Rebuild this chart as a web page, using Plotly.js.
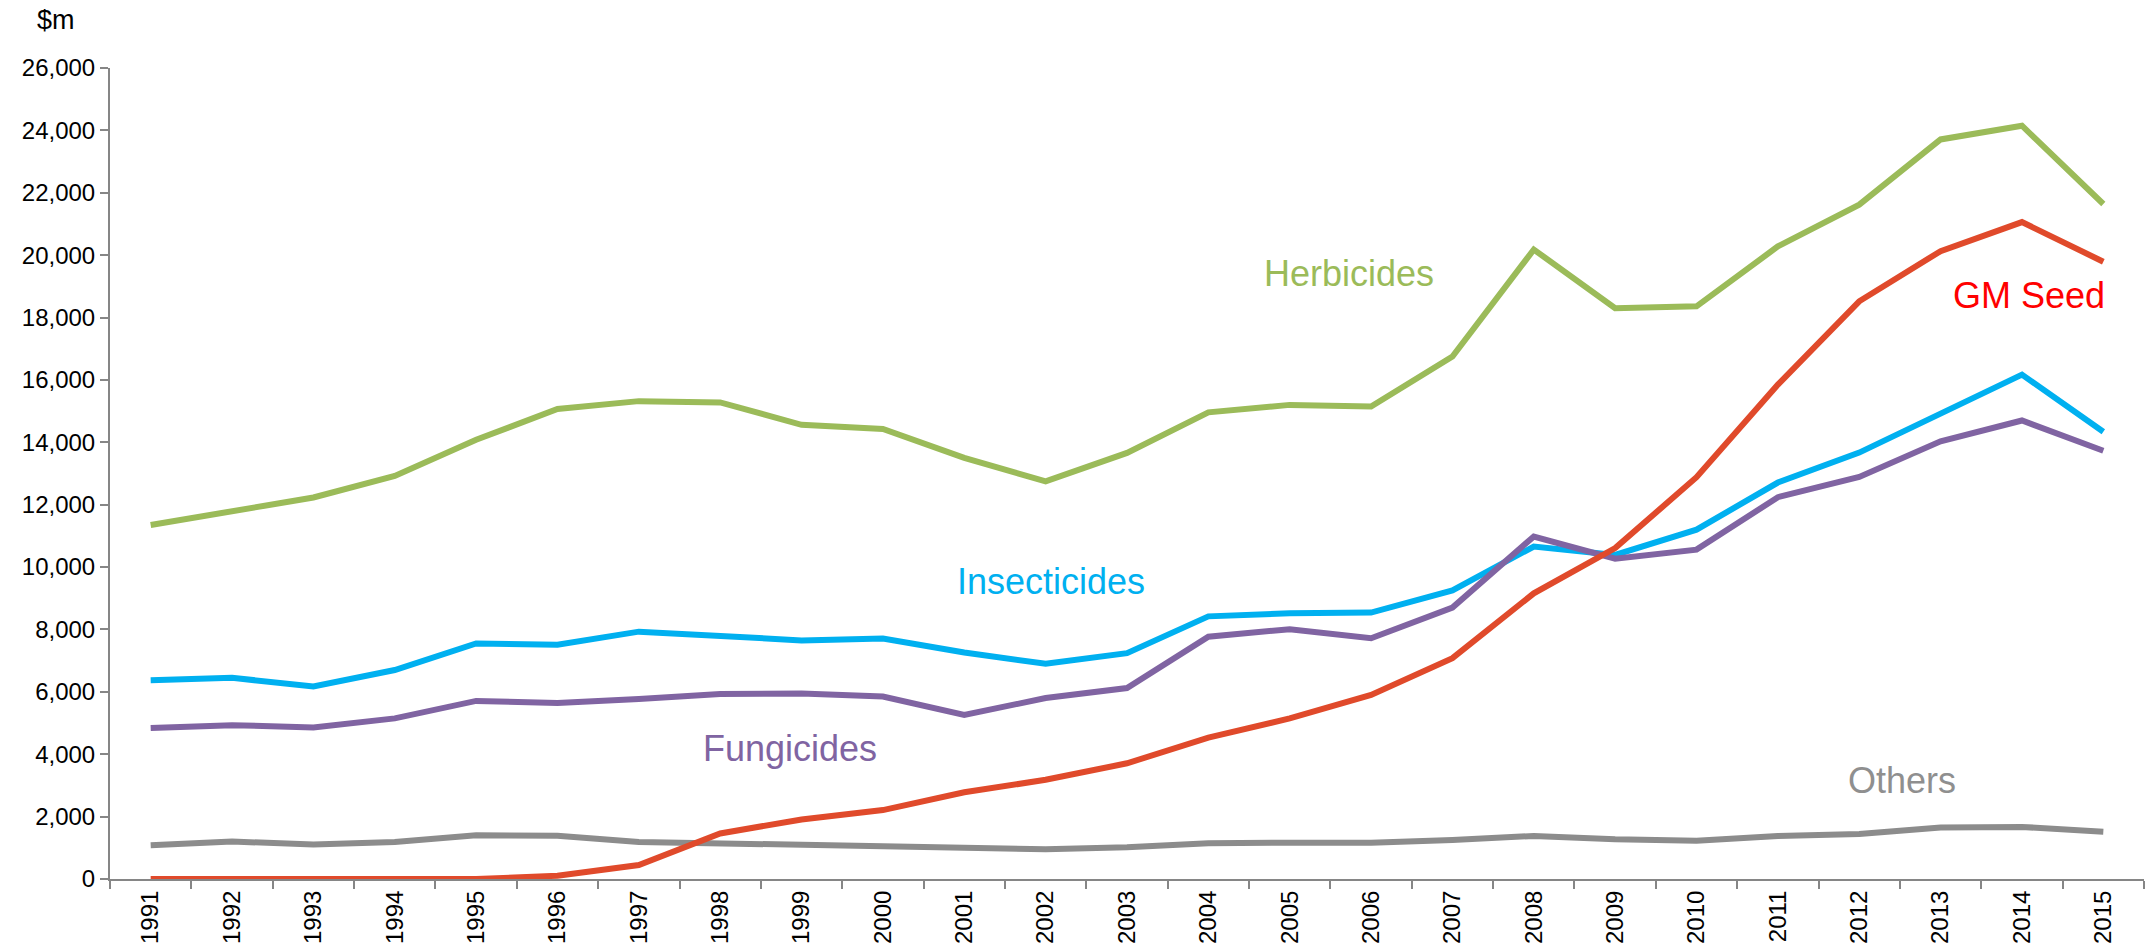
<!DOCTYPE html>
<html>
<head>
<meta charset="utf-8">
<script src="https://cdn.plot.ly/plotly-3.0.1.min.js"></script>
<style>
  html, body { margin: 0; padding: 0; background: #ffffff; }
  #chart { width: 2149px; height: 952px; }
</style>
</head>
<body>
<div id="chart"></div>
<script>
// Crop protection and seed market, $m per year
const years = ['1991','1992','1993','1994','1995','1996','1997','1998','1999','2000',
  '2001','2002','2003','2004','2005','2006','2007','2008','2009','2010',
  '2011','2012','2013','2014','2015'];

const herbicides = [11350, 11780, 12230, 12920, 14080, 15070, 15320, 15280, 14560, 14430,
  13500, 12750, 13660, 14960, 15200, 15150, 16750, 20180, 18300, 18360,
  20280, 21620, 23710, 24150, 21640];

const insecticides = [6370, 6450, 6170, 6700, 7550, 7510, 7930, 7770, 7650, 7710,
  7260, 6900, 7240, 8420, 8520, 8540, 9250, 10660, 10390, 11200,
  12710, 13670, 14940, 16170, 14340];

const fungicides = [4840, 4930, 4860, 5150, 5710, 5640, 5770, 5930, 5950, 5850,
  5260, 5800, 6120, 7770, 8010, 7720, 8700, 10980, 10270, 10560,
  12240, 12890, 14030, 14700, 13730];

const gmSeed = [0, 0, 0, 0, 0, 105, 450, 1460, 1910, 2210,
  2780, 3180, 3710, 4530, 5150, 5900, 7080, 9160, 10610, 12880,
  15850, 18520, 20130, 21060, 19790];

const others = [1080, 1200, 1110, 1190, 1400, 1390, 1190, 1150, 1090, 1060,
  985, 955, 1015, 1145, 1165, 1165, 1250, 1380, 1275, 1230,
  1380, 1445, 1650, 1670, 1515];

const seriesNames = ['Others', 'Herbicides', 'Insecticides', 'Fungicides', 'GM Seed'];
const seriesValues = [others, herbicides, insecticides, fungicides, gmSeed];
const lineColors = ['#8c8c8c', '#9bbb59', '#00b0f0', '#8064a2', '#e04a2b'];

// Inline series labels: [text, category position, value, colour]
const labelText = ['Herbicides', 'GM Seed', 'Insecticides', 'Fungicides', 'Others'];
const labelX = [14.73, 23.09, 11.07, 7.86, 21.53];
const labelY = [19400, 18700, 9530, 4170, 3150];
const labelColors = ['#9bbb59', '#ff0000', '#00b0f0', '#8064a2', '#8f8f8f'];

const FONT = 'Liberation Sans, Arial, Helvetica, sans-serif';

const traces = seriesNames.map((name, i) => ({
  type: 'scatter',
  mode: 'lines',
  name: name,
  x: years,
  y: seriesValues[i],
  line: { color: lineColors[i], width: 6, shape: 'linear' },
  cliponaxis: false,
  hoverinfo: 'x+y+name'
}));

const annotations = labelText.map((t, i) => ({
  text: t,
  xref: 'x', yref: 'y',
  x: labelX[i], y: labelY[i],
  xanchor: 'center', yanchor: 'middle',
  showarrow: false,
  font: { family: FONT, size: 36, color: labelColors[i] }
}));

// Unit label above the value axis
annotations.push({
  text: '$m',
  xref: 'paper', yref: 'paper',
  x: (56 - 110) / 2034, y: 1 + (68 - 20) / 811,
  xanchor: 'center', yanchor: 'middle',
  showarrow: false,
  font: { family: FONT, size: 27, color: '#000000' }
});

const axisGrey = '#868686';

const layout = {
  width: 2149,
  height: 952,
  margin: { l: 110, r: 5, t: 68, b: 73, pad: 0 },
  paper_bgcolor: '#ffffff',
  plot_bgcolor: '#ffffff',
  showlegend: false,
  font: { family: FONT, size: 24, color: '#000000' },
  xaxis: {
    type: 'category',
    range: [-0.5, 24.5],
    tickson: 'boundaries',
    ticks: 'outside',
    ticklen: 8,
    tickwidth: 2,
    tickcolor: axisGrey,
    tickangle: -90,
    showline: true,
    linecolor: axisGrey,
    linewidth: 2,
    showgrid: false,
    zeroline: false,
    automargin: false,
    tickfont: { family: FONT, size: 24, color: '#000000' }
  },
  yaxis: {
    range: [0, 26000],
    tick0: 0,
    dtick: 2000,
    tickformat: ',d',
    ticks: 'outside',
    ticklen: 8,
    tickwidth: 2,
    tickcolor: axisGrey,
    showline: true,
    linecolor: axisGrey,
    linewidth: 2,
    showgrid: false,
    zeroline: false,
    automargin: false,
    tickfont: { family: FONT, size: 24, color: '#000000' }
  },
  annotations: annotations
};

Plotly.newPlot('chart', traces, layout, { staticPlot: true, displayModeBar: false });
</script>
</body>
</html>
